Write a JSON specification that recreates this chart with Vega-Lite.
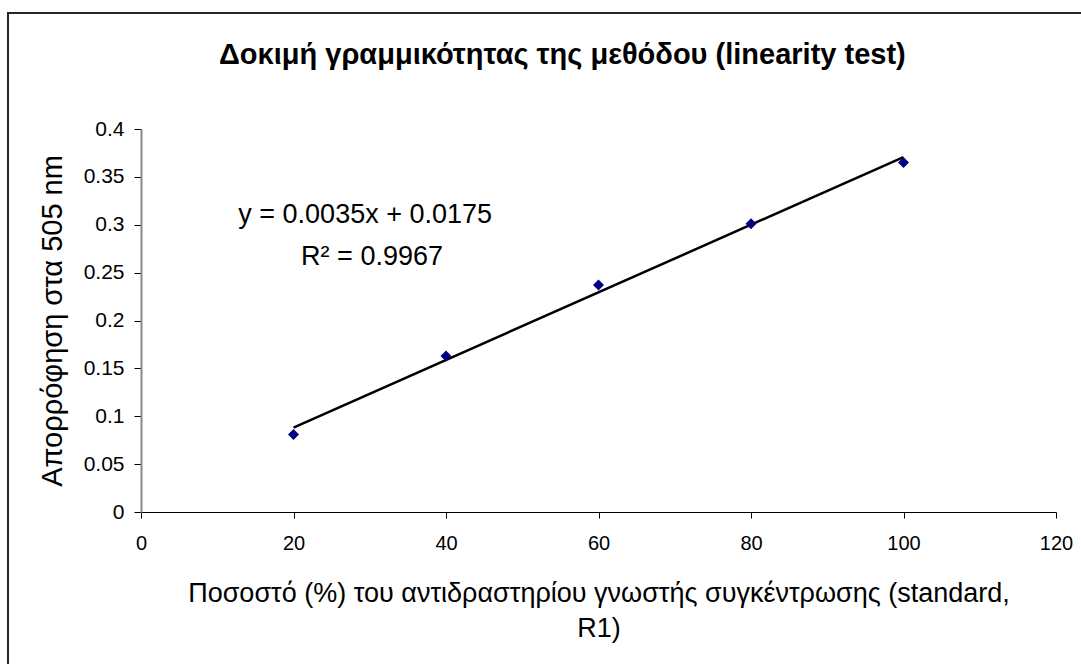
{
  "$schema": "https://vega.github.io/schema/vega-lite/v6.json",
  "autosize": {"type": "none"},
  "padding": {"left": 8, "top": 13, "right": 0, "bottom": 0},
  "width": 1100,
  "height": 700,
  "background": "white",
  "config": {
    "view": {"stroke": "#262626", "strokeWidth": 2},
    "font": "Liberation Sans"
  },
  "title": {
    "text": "Δοκιμή γραμμικότητας της μεθόδου (linearity test)",
    "font": "Liberation Sans",
    "fontSize": 29,
    "fontWeight": "bold",
    "color": "black",
    "anchor": "start",
    "frame": "group",
    "offset": -57,
    "dx": 211
  },
  "datasets": {
    "points": [
      {"x": 20, "y": 0.081},
      {"x": 40, "y": 0.163},
      {"x": 60, "y": 0.237},
      {"x": 80, "y": 0.301},
      {"x": 100, "y": 0.365}
    ],
    "notes": [
      {"x": 29.4, "y": 0.3018, "label": "y = 0.0035x + 0.0175"},
      {"x": 30.3, "y": 0.258, "label": "R² = 0.9967"}
    ]
  },
  "layer": [
    {
      "data": {"name": "points"},
      "transform": [{"regression": "y", "on": "x"}],
      "mark": {"type": "line", "color": "black", "strokeWidth": 2.5},
      "encoding": {
        "x": {
          "field": "x",
          "type": "quantitative",
          "scale": {"domain": [0, 120], "range": [133, 1048], "nice": false, "zero": false},
          "axis": {
            "title": ["Ποσοστό (%) του αντιδραστηρίου γνωστής συγκέντρωσης (standard,", "R1)"],
            "values": [0, 20, 40, 60, 80, 100, 120],
            "orient": "bottom",
            "offset": -201,
            "grid": false,
            "domainColor": "black",
            "domainWidth": 1,
            "tickColor": "black",
            "tickSize": 6,
            "labelFontSize": 20,
            "labelColor": "black",
            "labelPadding": 15,
            "labelFlush": false,
            "labelOverlap": false,
            "titleFontSize": 27,
            "titleFontWeight": "normal",
            "titleColor": "black",
            "titlePadding": 27,
            "titleLineHeight": 35
          }
        },
        "y": {
          "field": "y",
          "type": "quantitative",
          "scale": {"domain": [0, 0.4], "range": [499, 116], "nice": false, "zero": false},
          "axis": {
            "title": "Απορρόφηση στα 505 nm",
            "values": [0, 0.05, 0.1, 0.15, 0.2, 0.25, 0.3, 0.35, 0.4],
            "format": "~g",
            "offset": -133,
            "grid": false,
            "domainColor": "#888888",
            "domainWidth": 2,
            "tickColor": "black",
            "tickSize": 7,
            "labelFontSize": 21,
            "labelColor": "black",
            "labelPadding": 10,
            "labelFlush": false,
            "labelOverlap": false,
            "titleFontSize": 29,
            "titleFontWeight": "normal",
            "titleColor": "black",
            "titlePadding": 16
          }
        }
      }
    },
    {
      "data": {"name": "points"},
      "mark": {"type": "point", "shape": "diamond", "filled": true, "color": "#000080", "size": 120, "opacity": 1},
      "encoding": {
        "x": {"field": "x", "type": "quantitative"},
        "y": {"field": "y", "type": "quantitative"}
      }
    },
    {
      "data": {"name": "notes"},
      "mark": {"type": "text", "fontSize": 27, "align": "center", "baseline": "alphabetic", "color": "black"},
      "encoding": {
        "x": {"field": "x", "type": "quantitative"},
        "y": {"field": "y", "type": "quantitative"},
        "text": {"field": "label"}
      }
    }
  ]
}
